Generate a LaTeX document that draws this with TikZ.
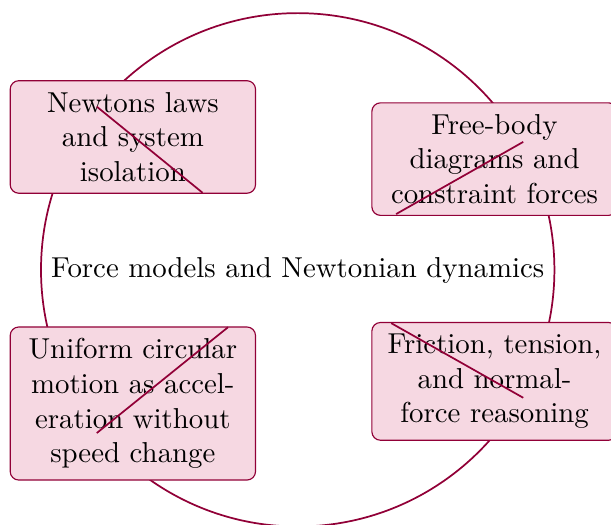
\documentclass[tikz,border=0pt]{standalone}
\usepackage{xcolor}
\usepackage{tikz}
\usetikzlibrary{positioning}
\definecolor{forcered}{RGB}{145,0,55}
\definecolor{forcepink}{RGB}{246,216,226}
\hyphenation{diagrams}

\begin{document}
\begin{tikzpicture}
    \tikzstyle{topicbox}=[draw=forcered, thin, fill=forcepink, rounded corners=3pt,
        text width=2.64cm, inner xsep=5pt, inner ysep=4pt,
        execute at begin node={\parindent=0pt\leftskip=0pt plus 1.5em\rightskip=0pt plus 1.5em\parfillskip=0pt}];
    \tikzstyle{spoke}=[draw=forcered, semithick];
    \useasboundingbox (-3.63, -3.13) rectangle (3.82, 3.27);
    \draw[forcered, semithick] (0, -0.02) circle (3.13);
    \node (hub) at (0, -0.03) {Force models and Newtonian dynamics};
    \node[topicbox] (laws) at (-2.01, 1.60) {Newtons laws and system isolation};
    \node[topicbox] (fbd) at (2.40, 1.33) {Free-body diagrams and constraint forces};
    \node[topicbox] (circ) at (-2.01, -1.65) {Uniform circular motion as acceleration without speed change};
    \node[topicbox] (fric) at (2.40, -1.38) {Friction, tension, and normal-force reasoning};
    % spokes
    \coordinate (laws-a) at (-2.45, 1.97);
    \coordinate (laws-b) at (-1.16, 0.92);
    \coordinate (fbd-a) at (2.75, 1.54);
    \coordinate (fbd-b) at (1.20, 0.66);
    \coordinate (circ-a) at (-0.85, -0.72);
    \coordinate (circ-b) at (-2.45, -2.01);
    \coordinate (fric-a) at (1.14, -0.67);
    \coordinate (fric-b) at (2.75, -1.58);
    \path[spoke] (laws-a) -- (laws-b);
    \path[spoke] (fbd-a) -- (fbd-b);
    \path[spoke] (circ-a) -- (circ-b);
    \path[spoke] (fric-a) -- (fric-b);
\end{tikzpicture}
\end{document}
